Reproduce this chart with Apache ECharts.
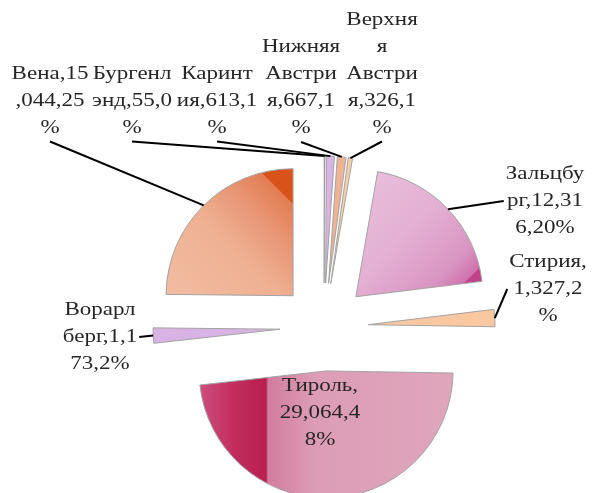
<!DOCTYPE html>
<html>
<head>
<meta charset="utf-8">
<script src="https://cdn.jsdelivr.net/npm/echarts@6/dist/echarts.min.js"></script>
<style>
  html, body { margin: 0; padding: 0; background: #fff; }
  #chart { width: 595px; height: 493px; }
</style>
</head>
<body>
<div id="chart"></div>
<script>
// Land names and counts, in the order the slices run clockwise from 12 o'clock
const regions = ['Бургенлэнд', 'Каринтия', 'Нижняя Австрия', 'Верхняя Австрия', 'Зальцбург', 'Стирия', 'Тироль', 'Ворарлберг', 'Вена'];
const counts = [55, 613, 667, 326, 12316, 1327, 29064, 1173, 15044];

// Label block centres (px)
const labelPos = [[132, 101], [217, 101], [301, 88], [382, 74], [545, 201], [548, 289], [320, 413], [100, 337], [50, 101]];

const FONT_SIZE = 19;
const FONT_FAMILY = '"Liberation Serif", "Times New Roman", serif';
const FONT = FONT_SIZE + 'px ' + FONT_FAMILY;
const LINE_H = 27;
const STRETCH = 1.21;     // horizontal stretch of label text
const WRAP_WIDTH = 67;    // wrap box width before stretching
const OFFSET = 44;        // slice explosion distance

const measureCtx = document.createElement('canvas').getContext('2d');
measureCtx.font = FONT;
const tw = s => measureCtx.measureText(s).width;

// Wrap by words; a word wider than the box is split by characters
function wrap(text, width) {
  const lines = [];
  let cur = '';
  for (const word of text.split(' ')) {
    const cand = cur ? cur + ' ' + word : word;
    if (tw(cand) <= width) { cur = cand; continue; }
    if (cur) { lines.push(cur); cur = ''; }
    if (tw(word) <= width) { cur = word; continue; }
    for (const ch of word) {
      if (cur && tw(cur + ch) > width) { lines.push(cur); cur = ch; }
      else cur += ch;
    }
  }
  if (cur) lines.push(cur);
  return lines;
}

const fmt = v => v.toLocaleString('en-US');

const lin = (x, y, x2, y2, stops) => ({
  type: 'linear', x: x, y: y, x2: x2, y2: y2,
  colorStops: stops.map(s => ({ offset: s[0], color: s[1] }))
});

const fills = [
  '#C8487A',
  '#D9B3E3',
  '#EEB294',
  '#F6D0A6',
  lin(0, 0, 1, 1, [[0, '#E9C0DD'], [0.45, '#E4B0D3'], [0.75, '#DA95C3'], [0.87, '#CF72AC'], [0.875, '#C3428C'], [1, '#C03E88']]),
  '#FAC8A0',
  lin(0, 0, 1, 0, [[0, '#CE4E7C'], [0.14, '#C22D5E'], [0.262, '#B81F50'], [0.27, '#D27C9E'], [0.45, '#DC9CB5'], [1, '#DFA6BC']]),
  '#D9B3E3',
  lin(1, 0, 0, 1, [[0, '#D9521A'], [0.14, '#D9521A'], [0.145, '#E27E52'], [0.35, '#E9997A'], [0.55, '#EFB092'], [1, '#F2BDA2']])
];

const data = regions.map((name, i) => ({
  name: name,
  value: counts[i],
  selected: true,
  itemStyle: { color: fills[i] }
}));

const chart = echarts.init(document.getElementById('chart'), null, { renderer: 'canvas' });

chart.setOption({
  animation: false,
  backgroundColor: '#ffffff',
  series: [{
    type: 'pie',
    center: [324, 327],
    radius: 127,
    startAngle: 90,
    clockwise: true,
    selectedMode: 'multiple',
    selectedOffset: OFFSET,
    percentPrecision: 0,
    silent: true,
    itemStyle: { borderColor: '#A3A3A3', borderWidth: 1 },
    label: { show: false },
    labelLine: { show: false },
    data: data
  }]
});

// Data labels with straight leader lines, placed from the pie's own layout
const pieModel = chart.getModel().getSeriesByIndex(0);
const seriesData = pieModel.getData();
const graphics = [];
regions.forEach((name, i) => {
  const lay = seriesData.getItemLayout(i);
  const percent = pieModel.getDataParams(i).percent;
  const lines = wrap(name + ',' + fmt(counts[i]) + ',' + percent + '%', WRAP_WIDTH);
  const [lx, ly] = labelPos[i];
  graphics.push({
    type: 'text',
    x: lx, y: ly,
    scaleX: STRETCH,
    z: 10,
    style: {
      text: lines.join('\n'),
      font: FONT,
      fill: '#262626',
      align: 'center',
      verticalAlign: 'middle',
      lineHeight: LINE_H
    }
  });
  if (name === 'Тироль') return;   // this label sits inside its slice
  const mid = (lay.startAngle + lay.endAngle) / 2;
  const ax = lay.cx + Math.cos(mid) * (OFFSET + lay.r);
  const ay = lay.cy + Math.sin(mid) * (OFFSET + lay.r);
  const halfW = Math.max(...lines.map(tw)) * STRETCH / 2 + 2;
  const halfH = lines.length * LINE_H / 2;
  let sx, sy;
  if (ay > ly + halfH) { sx = lx; sy = ly + halfH; }
  else if (ay < ly - halfH) { sx = lx; sy = ly - halfH; }
  else if (ax < lx) { sx = lx - halfW; sy = ly; }
  else { sx = lx + halfW; sy = ly; }
  graphics.push({
    type: 'line',
    z: 9,
    shape: { x1: sx, y1: sy, x2: ax, y2: ay },
    style: { stroke: '#000', lineWidth: 2 }
  });
});
chart.setOption({ graphic: graphics });
</script>
</body>
</html>
